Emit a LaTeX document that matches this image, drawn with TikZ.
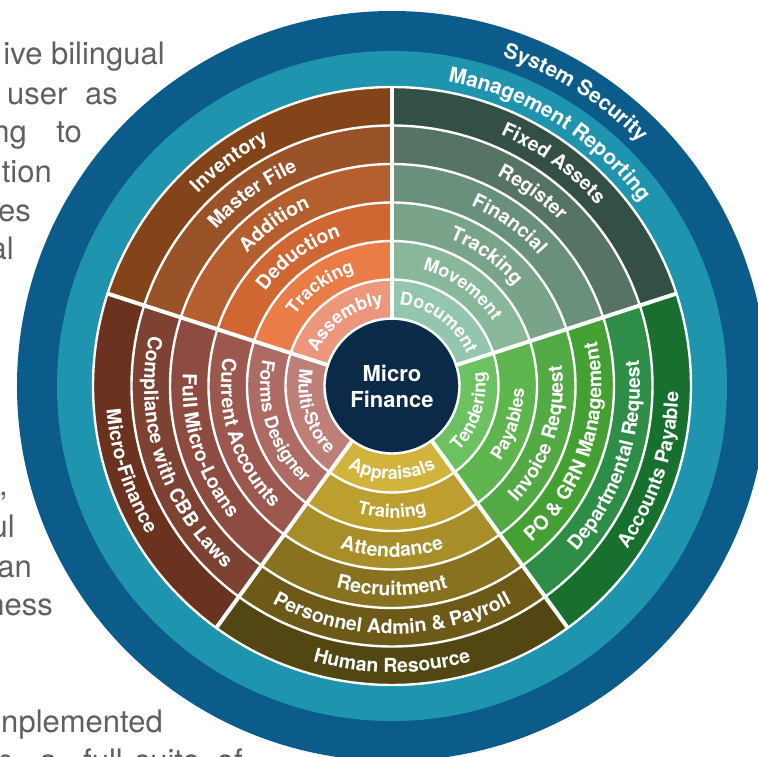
\documentclass[tikz,border=0pt]{standalone}
\usepackage{fontspec}
\setmainfont{TeX Gyre Heros}
\usetikzlibrary{decorations.text}
\definecolor{cBlue}{HTML}{0B5B8B}
\definecolor{cTeal}{HTML}{1E94AF}
\definecolor{cNavy}{HTML}{0A2A47}
\definecolor{cGray}{HTML}{606060}
\definecolor{invA}{HTML}{844419}\definecolor{invB}{HTML}{9A5229}\definecolor{invC}{HTML}{B55F2E}
\definecolor{invD}{HTML}{D06632}\definecolor{invE}{HTML}{E97C47}\definecolor{invF}{HTML}{EC977B}
\definecolor{faA}{HTML}{344F45}\definecolor{faB}{HTML}{567363}\definecolor{faC}{HTML}{69907A}
\definecolor{faD}{HTML}{7AA489}\definecolor{faE}{HTML}{88B79A}\definecolor{faF}{HTML}{93C6AC}
\definecolor{apA}{HTML}{17702E}\definecolor{apB}{HTML}{2E8D46}\definecolor{apC}{HTML}{45A034}
\definecolor{apD}{HTML}{53A944}\definecolor{apE}{HTML}{5EB44D}\definecolor{apF}{HTML}{6CC161}
\definecolor{hrA}{HTML}{524713}\definecolor{hrB}{HTML}{6D5A19}\definecolor{hrC}{HTML}{88721F}
\definecolor{hrD}{HTML}{A78E28}\definecolor{hrE}{HTML}{BC9F2F}\definecolor{hrF}{HTML}{D2B33B}
\definecolor{mfA}{HTML}{6B321F}\definecolor{mfB}{HTML}{7E4233}\definecolor{mfC}{HTML}{8D4B42}
\definecolor{mfD}{HTML}{9C584E}\definecolor{mfE}{HTML}{AD6B63}\definecolor{mfF}{HTML}{BF7F79}
% annular sector: start angle, end angle, inner radius, outer radius, colour
\newcommand{\wedgering}[5]{%
  \fill[#5] (#1:#3pt) arc[start angle=#1, end angle=#2, radius=#3pt]
    -- (#2:#4pt) arc[start angle=#2, end angle=#1, radius=#4pt] -- cycle;}
% label reading clockwise (letters point outward): mid angle, baseline radius, size, text
\newcommand{\toplabel}[4]{%
  \path[decorate, decoration={text along path, text align=center,
    text={|\color{white}\fontsize{#3}{#3}\selectfont\bfseries|#4}}]
    (#1+36:#2pt) arc[start angle=#1+36, end angle=#1-36, radius=#2pt];}
% label reading counter-clockwise (letters point inward)
\newcommand{\botlabel}[4]{%
  \path[decorate, decoration={text along path, text align=center,
    text={|\color{white}\fontsize{#3}{#3}\selectfont\bfseries|#4}}]
    (#1-36:#2pt) arc[start angle=#1-36, end angle=#1+36, radius=#2pt];}
\tikzset{
  para/.style={inner sep=0pt, text=cGray, font=\fontsize{31}{31}\selectfont},
  ringline/.style={white, line width=2.4pt},
  divider/.style={white, line width=4pt}
}
\begin{document}
\begin{tikzpicture}[x=1pt,y=1pt]
\clip (-392,-371) rectangle (366,386);
% paragraph fragments at the left
\node[para, anchor=base east] (t1) at (-227,321) {ive bilingual};
\node[para, anchor=base west] (t2) at (-385,281) {user};
\node[para, anchor=base east] (t3) at (-274,281) {as};
\node[para, anchor=base east] (t4) at (-365,243) {ng};
\node[para, anchor=base east] (t5) at (-310,243) {to};
\node[para, anchor=base east] (t6) at (-340,203) {tion};
\node[para, anchor=base east] (t7) at (-361,164) {es};
\node[para, anchor=base east] (t8) at (-378,126) {al};
\node[para, anchor=base east] (t9) at (-384,-110) {,};
\node[para, anchor=base east] (t10) at (-377,-152) {ul};
\node[para, anchor=base east] (t11) at (-360,-192) {an};
\node[para, anchor=base east] (t12) at (-339,-230) {ness};
\node[para, anchor=base east] (t13) at (-229,-346) {nplemented};
\node[para, anchor=base east] (t14) at (-379,-385) {n};
\node[para, anchor=base east] (t15) at (-335,-385) {a};
\node[para, anchor=base east] (t16) at (-269,-385) {full};
\node[para, anchor=base east] (t17) at (-192,-385) {suite};
\node[para, anchor=base east] (t18) at (-149,-385) {of};
% outer rings
\fill[cBlue] (0,0) circle[radius=375pt];
\fill[cTeal] (0,0) circle[radius=335pt];
% sectors
\foreach \k/\c in {0/invA,1/invB,2/invC,3/invD,4/invE,5/invF}{
  \pgfmathsetmacro{\ri}{299-38.5*(\k+1)}\pgfmathsetmacro{\ro}{299-38.5*\k}
  \wedgering{90}{162}{\ri}{\ro}{\c}}
\foreach \k/\c in {0/faA,1/faB,2/faC,3/faD,4/faE,5/faF}{
  \pgfmathsetmacro{\ri}{299-38.5*(\k+1)}\pgfmathsetmacro{\ro}{299-38.5*\k}
  \wedgering{18}{90}{\ri}{\ro}{\c}}
\foreach \k/\c in {0/apA,1/apB,2/apC,3/apD,4/apE,5/apF}{
  \pgfmathsetmacro{\ri}{299-38.5*(\k+1)}\pgfmathsetmacro{\ro}{299-38.5*\k}
  \wedgering{-54}{18}{\ri}{\ro}{\c}}
\foreach \k/\c in {0/hrA,1/hrB,2/hrC,3/hrD,4/hrE,5/hrF}{
  \pgfmathsetmacro{\ri}{299-38.5*(\k+1)}\pgfmathsetmacro{\ro}{299-38.5*\k}
  \wedgering{-126}{-54}{\ri}{\ro}{\c}}
\foreach \k/\c in {0/mfA,1/mfB,2/mfC,3/mfD,4/mfE,5/mfF}{
  \pgfmathsetmacro{\ri}{299-38.5*(\k+1)}\pgfmathsetmacro{\ro}{299-38.5*\k}
  \wedgering{162}{234}{\ri}{\ro}{\c}}
% white ring lines and dividers
\foreach \r in {299,260.5,222,183.5,145,106.5}
  \draw[ringline] (0,0) circle[radius=\r pt];
\foreach \a in {90,18,-54,-126,162}
  \draw[divider] (\a:66pt) -- (\a:299pt);
% centre
\fill[cNavy] (0,0) circle[radius=66pt];
\draw[ringline] (0,0) circle[radius=67.5pt];
\node[text=white, align=center, font=\bfseries\fontsize{22}{26}\selectfont] (centre) at (0,0) {Micro\\Finance};
% outer labels
\toplabel{58}{347.5}{21}{System Security}
\toplabel{58}{309.5}{21}{Management Reporting}
% inventory sector
\toplabel{126}{273.5}{19.5}{Inventory}
\toplabel{126}{235}{19.5}{Master File}
\toplabel{126}{196.5}{19.5}{Addition}
\toplabel{126}{158}{19.5}{Deduction}
\toplabel{126}{120}{18}{Tracking}
\toplabel{126}{81.5}{18}{Assembly}
% fixed assets sector
\toplabel{54}{273.5}{19.5}{Fixed Assets}
\toplabel{54}{235}{19.5}{Register}
\toplabel{54}{196.5}{19.5}{Financial}
\toplabel{54}{158}{19.5}{Tracking}
\toplabel{54}{120}{18}{Movement}
\toplabel{54}{81.5}{18}{Document}
% accounts payable sector
\botlabel{-18}{286.5}{19.5}{Accounts Payable}
\botlabel{-18}{248}{19.5}{Departmental Request}
\botlabel{-18}{209.5}{19.5}{PO {\&} GRN Management}
\botlabel{-18}{171}{19.5}{Invoice Request}
\botlabel{-18}{132}{18}{Payables}
\botlabel{-18}{93.5}{18}{Tendering}
% human resource sector
\botlabel{-90}{286.5}{19.5}{Human Resource}
\botlabel{-90}{248}{19.5}{Personnel Admin {\&} Payroll}
\botlabel{-90}{209.5}{19.5}{Recruitment}
\botlabel{-90}{171}{19.5}{Attendance}
\botlabel{-90}{132}{18}{Training}
\botlabel{-90}{93.5}{18}{Appraisals}
% micro finance sector
\botlabel{198}{286.5}{19.5}{Micro-Finance}
\botlabel{198}{248}{19.5}{Compliance with CBB Laws}
\botlabel{198}{209.5}{19.5}{Full Micro-Loans}
\botlabel{198}{171}{19.5}{Current Accounts}
\botlabel{198}{132}{18}{Forms Designer}
\botlabel{198}{93.5}{18}{Multi-Store}
\end{tikzpicture}
\end{document}
